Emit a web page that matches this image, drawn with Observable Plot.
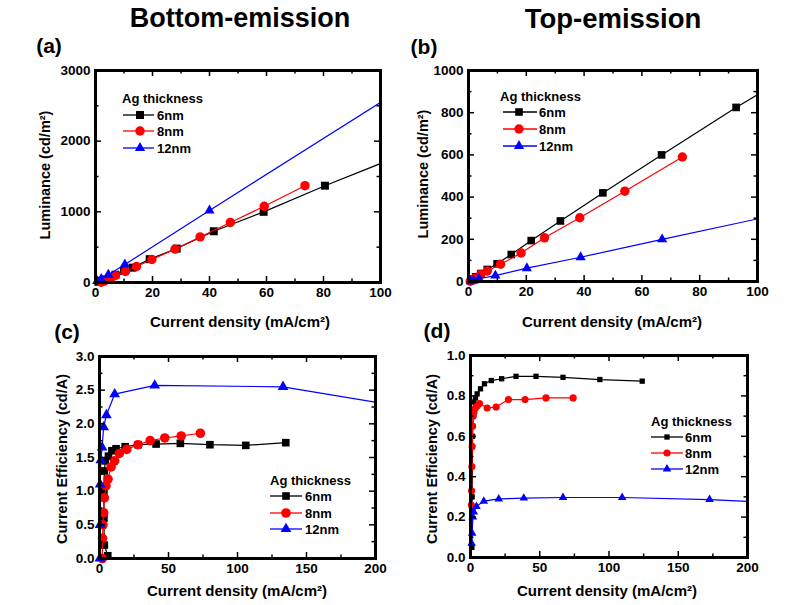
<!DOCTYPE html>
<html><head><meta charset="utf-8">
<script src="https://cdn.jsdelivr.net/npm/d3@7"></script>
<script src="https://cdn.jsdelivr.net/npm/@observablehq/plot@0.6"></script>
<style>
body{margin:0;background:#fff;}
#root{position:relative;width:788px;height:605px;overflow:hidden;}
#root svg{position:absolute;}
</style></head><body><div id="root"></div>
<script>
// ---------- data ----------
const seriesNames = ["6nm", "8nm", "12nm"];
const seriesColors = ["#000000", "#ff0000", "#0000ff"];
const seriesSymbols = ["square", "circle", "triangle"];
const legendTitle = "Ag thickness";

// (a) Bottom-emission: luminance vs current density
const a6J = [1, 2, 3, 5, 7, 10, 13, 19, 28.5, 41.5, 59, 80.5, 106, 135];
const a6L = [10, 25, 45, 75, 110, 165, 210, 330, 480, 725, 1000, 1370, 1780, 2320];
const a8J = [2, 3, 5.3, 7, 10.5, 14.4, 19.8, 27.9, 36.7, 47.3, 59.2, 73.5];
const a8L = [3, 20, 52, 99, 155, 226, 325, 472, 645, 850, 1078, 1370];
const a12J = [0.6, 2, 4.5, 10.3, 40, 133];
const a12L = [20, 50, 110, 255, 1020, 3390];

// (b) Top-emission: luminance vs current density
const b6J = [0.8, 1.5, 2.5, 4.3, 6.5, 9.9, 14.8, 21.7, 31.8, 46.5, 66.8, 92.6, 124];
const b6L = [6, 12, 22, 38, 57, 84, 128, 194, 287, 420, 600, 825, 1080];
const b8J = [0.6, 1, 2, 4.2, 6.5, 11.1, 18.2, 26.3, 38.5, 54.1, 74];
const b8L = [1.5, 4.5, 14, 33, 50, 82, 135, 207, 302, 428, 590];
const b12J = [0.8, 1.7, 3.6, 9.3, 20.2, 38.8, 67, 110, 173];
const b12L = [0.6, 3.4, 13, 28, 63, 115, 200, 326, 497];

// (c) Bottom-emission: current efficiency vs current density
const c6J = [6, 3.5, 3.2, 3.2, 3.5, 4.2, 6.5, 9, 12, 18.6, 28, 41, 58.6, 80, 106, 135];
const c6E = [0.04, 0.2, 0.6, 1.0, 1.3, 1.45, 1.52, 1.6, 1.63, 1.66, 1.69, 1.70, 1.71, 1.69, 1.68, 1.72];
const c8J = [2, 2.2, 2.5, 3, 3.5, 4.7, 6.2, 8.4, 11, 14.4, 19.8, 27.9, 36.7, 47.3, 59.2, 73.1];
const c8E = [0.0, 0.3, 0.5, 0.68, 0.9, 1.08, 1.18, 1.36, 1.45, 1.56, 1.62, 1.69, 1.75, 1.79, 1.82, 1.86];
const c12J = [0.3, 0.4, 0.5, 1, 1.9, 3, 5, 11, 40, 133, 230];
const c12E = [0.0, 0.5, 1.1, 1.46, 1.65, 1.95, 2.13, 2.44, 2.57, 2.55, 2.22];

// (d) Top-emission: current efficiency vs current density
const d6J = [1, 1.2, 1.5, 2, 2.4, 3.6, 4.8, 7.2, 10.1, 15, 22.5, 32.9, 47.3, 66.8, 93.4, 124];
const d6E = [0.05, 0.3, 0.6, 0.72, 0.77, 0.79, 0.81, 0.835, 0.86, 0.876, 0.885, 0.897, 0.897, 0.892, 0.881, 0.873];
const d8J = [0.6, 0.8, 1, 1.2, 1.5, 2, 2.5, 3.5, 4.8, 6.5, 12, 18.5, 27.4, 39.4, 54.5, 74.1];
const d8E = [0.26, 0.33, 0.45, 0.55, 0.65, 0.70, 0.72, 0.74, 0.75, 0.762, 0.74, 0.745, 0.782, 0.782, 0.79, 0.79];
const d12J = [0.8, 1.2, 1.7, 2.4, 4.3, 9.6, 20.4, 38.5, 66.8, 109.5, 172.6, 250];
const d12E = [0.07, 0.12, 0.2, 0.225, 0.252, 0.279, 0.29, 0.294, 0.297, 0.297, 0.287, 0.26];

// tick labels
const xTicksTop = [0, 20, 40, 60, 80, 100];
const xTicksBottom = [0, 50, 100, 150, 200];
const yTicksA = [0, 1000, 2000, 3000];
const yTicksB = [0, 200, 400, 600, 800, 1000];
const yTicksC = [0, 0.5, 1.0, 1.5, 2.0, 2.5, 3.0];
const yTicksD = [0, 0.2, 0.4, 0.6, 0.8, 1.0];

// text
const titleBottom = "Bottom-emission";
const titleTop = "Top-emission";
const labelLum = "Luminance (cd/m²)";
const labelCE = "Current Efficiency (cd/A)";
const labelJ = "Current density (mA/cm²)";

// ---------- drawing ----------
const FONT = '"Liberation Sans", Arial, Helvetica, sans-serif';
const root = document.getElementById("root");

function panel(cfg) {
  const {left, top, width, height, ml, mr, mt, mb, xDomain, yDomain, xTicks, yTicks, yFmt, series, rs} = cfg;
  const innerW = width - ml - mr, innerH = height - mt - mb;
  const xMinor = xTicks.slice(1).map((t, i) => (t + xTicks[i]) / 2);
  const yMinor = yTicks.slice(1).map((t, i) => (t + yTicks[i]) / 2);
  const tk = {stroke: "black", strokeWidth: 1.5};
  const marks = [];
  series.forEach((s, i) => {
    const data = s.x.map((x, j) => ({x, y: s.y[j]}));
    marks.push(Plot.line(data, {x: "x", y: "y", stroke: seriesColors[i], strokeWidth: 1.2, clip: true}));
    const inside = data.filter(d => d.x <= xDomain[1] && d.y <= yDomain[1]);
    marks.push(Plot.dot(inside, {x: "x", y: "y", symbol: seriesSymbols[i], fill: seriesColors[i], stroke: "none", r: rs[i]}));
  });
  marks.push(
    Plot.tickX(xTicks, {x: d => d, insetTop: innerH - 6, ...tk}),
    Plot.tickX(xTicks, {x: d => d, insetBottom: innerH - 6, ...tk}),
    Plot.tickX(xMinor, {x: d => d, insetTop: innerH - 3.5, ...tk}),
    Plot.tickX(xMinor, {x: d => d, insetBottom: innerH - 3.5, ...tk}),
    Plot.tickY(yTicks, {y: d => d, insetRight: innerW - 6, ...tk}),
    Plot.tickY(yTicks, {y: d => d, insetLeft: innerW - 6, ...tk}),
    Plot.tickY(yMinor, {y: d => d, insetRight: innerW - 3.5, ...tk}),
    Plot.tickY(yMinor, {y: d => d, insetLeft: innerW - 3.5, ...tk}),
    Plot.frame({stroke: "black", strokeWidth: 3}),
    Plot.axisX(xTicks, {tickSize: 0, tickPadding: 5, label: null, fontSize: 13.5, fontWeight: "bold", fill: "black"}),
    Plot.axisY(yTicks, {tickSize: 0, tickPadding: 5, label: null, tickFormat: yFmt, fontSize: 13.5, fontWeight: "bold", fill: "black"})
  );
  const svg = Plot.plot({
    width, height, marginLeft: ml, marginRight: mr, marginTop: mt, marginBottom: mb,
    x: {domain: xDomain}, y: {domain: yDomain},
    style: {fontFamily: FONT, fontSize: "13px", fontWeight: "bold", color: "black", background: "transparent", overflow: "visible"},
    marks
  });
  svg.style.left = left + "px";
  svg.style.top = top + "px";
  root.appendChild(svg);
}

const intFmt = d3.format("d");
const oneFmt = d3.format(".1f");

panel({left: 0, top: 55, width: 395, height: 275, ml: 95, mr: 15, mt: 15, mb: 48,
  xDomain: [0, 100], yDomain: [0, 3000], xTicks: xTicksTop, yTicks: yTicksA, yFmt: intFmt,
  series: [{x: a6J, y: a6L}, {x: a8J, y: a8L}, {x: a12J, y: a12L}], rs: [4.5, 4.7, 3.8]});
panel({left: 395, top: 55, width: 393, height: 275, ml: 73, mr: 31, mt: 15, mb: 49,
  xDomain: [0, 100], yDomain: [0, 1000], xTicks: xTicksTop, yTicks: yTicksB, yFmt: intFmt,
  series: [{x: b6J, y: b6L}, {x: b8J, y: b8L}, {x: b12J, y: b12L}], rs: [4.3, 4.7, 3.8]});
panel({left: 0, top: 340, width: 395, height: 240, ml: 99, mr: 20, mt: 16, mb: 22,
  xDomain: [0, 200], yDomain: [0, 3], xTicks: xTicksBottom, yTicks: yTicksC, yFmt: oneFmt,
  series: [{x: c6J, y: c6E}, {x: c8J, y: c8E}, {x: c12J, y: c12E}], rs: [4.3, 4.8, 4]});
panel({left: 395, top: 340, width: 393, height: 240, ml: 75, mr: 41, mt: 15, mb: 23,
  xDomain: [0, 200], yDomain: [0, 1], xTicks: xTicksBottom, yTicks: yTicksD, yFmt: oneFmt,
  series: [{x: d6J, y: d6E}, {x: d8J, y: d8E}, {x: d12J, y: d12E}], rs: [3, 3.6, 3.2]});

// overlay: titles, panel letters, axis labels, legends
const ov = d3.select(root).append("svg")
  .attr("width", 788).attr("height", 605)
  .style("left", "0px").style("top", "0px")
  .style("font-family", FONT).style("font-weight", "bold");

function txt(x, y, s, size, anchor = "middle", rot = 0) {
  ov.append("text").attr("x", x).attr("y", y)
    .attr("text-anchor", anchor).attr("dominant-baseline", "central")
    .attr("font-size", size).attr("fill", "black")
    .attr("transform", rot ? `rotate(${rot},${x},${y})` : null)
    .text(s);
}

txt(240, 18, titleBottom, 27);
txt(613, 18, titleTop, 27.5);
txt(49, 45, "(a)", 21);
txt(424, 46, "(b)", 21);
txt(67, 331, "(c)", 21);
txt(437, 330, "(d)", 21);

txt(45, 175, labelLum, 14.5, "middle", -90);
txt(423, 174, labelLum, 14.5, "middle", -90);
txt(62, 459, labelCE, 14.5, "middle", -90);
txt(432, 459, labelCE, 14.5, "middle", -90);

txt(240, 321, labelJ, 15);
txt(612, 321, labelJ, 15);
txt(237, 590, labelJ, 15);
txt(607, 590, labelJ, 15);

function legend(cfg) {
  const {hx, hy, x1, x2, xm, xt, ys, rs} = cfg;
  txt(hx, hy, legendTitle, 13, "start");
  seriesNames.forEach((n, i) => {
    ov.append("line").attr("x1", x1).attr("x2", x2).attr("y1", ys[i]).attr("y2", ys[i])
      .attr("stroke", seriesColors[i]).attr("stroke-width", 1.3);
    const sym = {square: d3.symbolSquare, circle: d3.symbolCircle, triangle: d3.symbolTriangle}[seriesSymbols[i]];
    ov.append("path").attr("d", d3.symbol(sym, Math.PI * rs[i] * rs[i])())
      .attr("transform", `translate(${xm},${ys[i]})`).attr("fill", seriesColors[i]);
    txt(xt, ys[i], n, 13, "start");
  });
}
legend({hx: 122, hy: 98, x1: 123, x2: 154, xm: 140, xt: 157, ys: [115, 131, 148], rs: [4.5, 4.7, 3.8]});
legend({hx: 500, hy: 96, x1: 503, x2: 537, xm: 519, xt: 539, ys: [112, 129, 146], rs: [4.3, 4.7, 3.8]});
legend({hx: 270, hy: 480, x1: 270, x2: 302, xm: 286, xt: 305, ys: [496, 513, 529], rs: [4.3, 4.8, 4]});
legend({hx: 651, hy: 421, x1: 651, x2: 683, xm: 667, xt: 685, ys: [437, 453, 469], rs: [3, 3.6, 3.2]});
</script></body></html>
